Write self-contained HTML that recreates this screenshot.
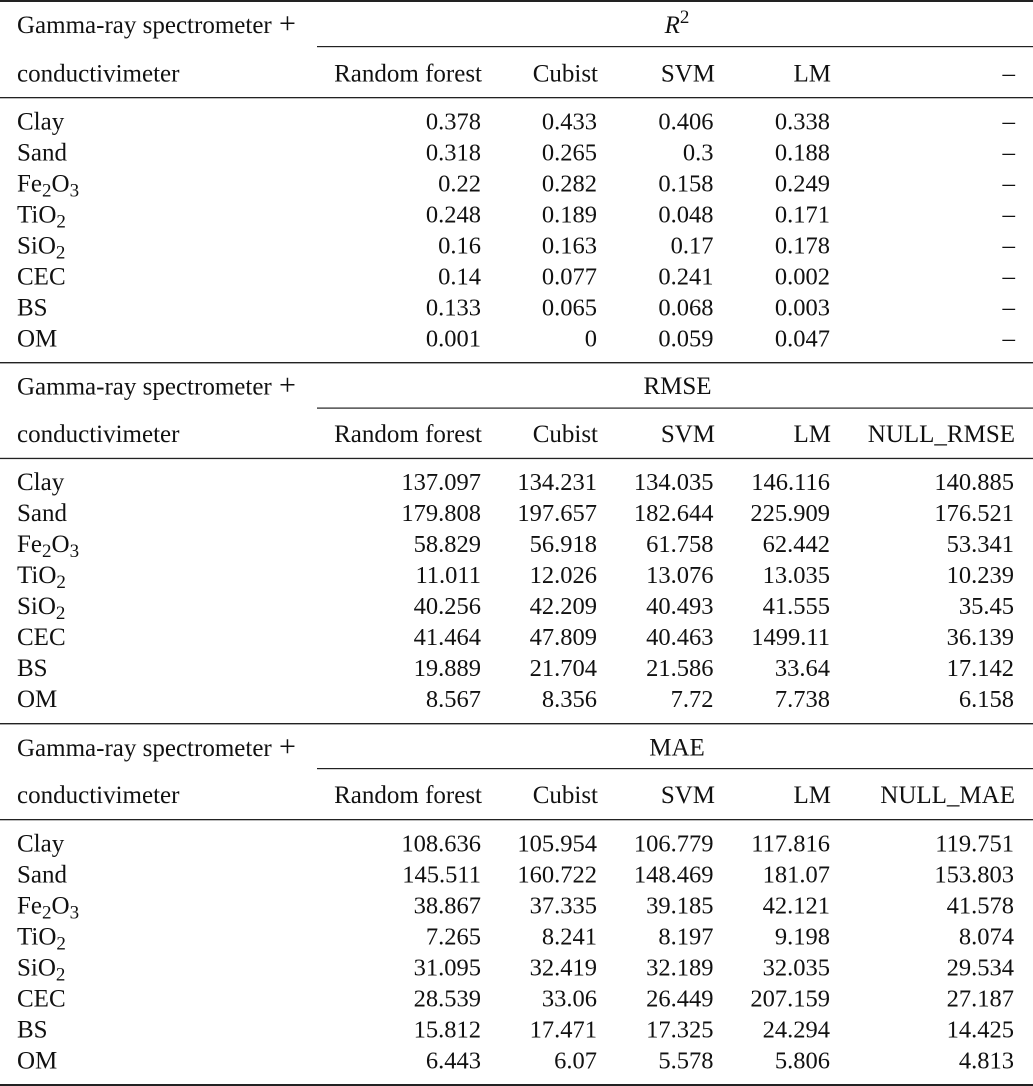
<!DOCTYPE html>
<html>
<head>
<meta charset="utf-8">
<style>
html,body{margin:0;padding:0;background:#fff;}
svg{display:block;}
text{font-family:"Liberation Serif","Times New Roman",serif;fill:#111;}
.l{font-size:25px;}
.n{font-size:24.5px;text-anchor:end;}
.h{font-size:25px;text-anchor:end;}
.c{font-size:25px;text-anchor:middle;}
.s{font-size:19px;}
.p{font-size:30px;}
</style>
</head>
<body>
<svg width="1033" height="1086" viewBox="0 0 1033 1086" xmlns="http://www.w3.org/2000/svg">
<!-- lines -->
<rect x="0" y="0" width="1033" height="2" fill="#222"/>
<rect x="317" y="46" width="716" height="1.2" fill="#222"/>
<rect x="0" y="97" width="1033" height="1.3" fill="#222"/>
<rect x="0" y="362" width="1033" height="1.4" fill="#222"/>
<rect x="317" y="407.5" width="716" height="1.2" fill="#222"/>
<rect x="0" y="457.8" width="1033" height="1.3" fill="#222"/>
<rect x="0" y="723" width="1033" height="1.4" fill="#222"/>
<rect x="317" y="768" width="716" height="1.2" fill="#222"/>
<rect x="0" y="819" width="1033" height="1.3" fill="#222"/>
<rect x="0" y="1084" width="1033" height="2" fill="#222"/>

<!-- ===== Table 1: R2 ===== -->
<text class="l" x="17" y="33">Gamma-ray spectrometer<tspan class="p" x="279">+</tspan></text>
<text class="c" x="677" y="33"><tspan font-style="italic">R</tspan><tspan class="s" dy="-10">2</tspan></text>
<text class="l" x="17" y="81.5">conductivimeter</text>
<text class="h" x="482" y="81.5">Random forest</text>
<text class="h" x="598" y="81.5">Cubist</text>
<text class="h" x="715" y="81.5">SVM</text>
<text class="h" x="831" y="81.5">LM</text>
<text class="h" x="1015" y="81.5">–</text>

<g>
<text class="l" x="17" y="129.3">Clay</text>
<text class="n" x="481" y="129.3">0.378</text><text class="n" x="597" y="129.3">0.433</text><text class="n" x="713.5" y="129.3">0.406</text><text class="n" x="830" y="129.3">0.338</text><text class="h" x="1015" y="129.3">–</text>
<text class="l" x="17" y="160.3">Sand</text>
<text class="n" x="481" y="160.3">0.318</text><text class="n" x="597" y="160.3">0.265</text><text class="n" x="713.5" y="160.3">0.3</text><text class="n" x="830" y="160.3">0.188</text><text class="h" x="1015" y="160.3">–</text>
<text class="l" x="17" y="191.3">Fe<tspan class="s" dy="5">2</tspan><tspan dy="-5">O</tspan><tspan class="s" dy="5">3</tspan></text>
<text class="n" x="481" y="191.3">0.22</text><text class="n" x="597" y="191.3">0.282</text><text class="n" x="713.5" y="191.3">0.158</text><text class="n" x="830" y="191.3">0.249</text><text class="h" x="1015" y="191.3">–</text>
<text class="l" x="17" y="222.3">TiO<tspan class="s" dy="5">2</tspan></text>
<text class="n" x="481" y="222.3">0.248</text><text class="n" x="597" y="222.3">0.189</text><text class="n" x="713.5" y="222.3">0.048</text><text class="n" x="830" y="222.3">0.171</text><text class="h" x="1015" y="222.3">–</text>
<text class="l" x="17" y="253.3">SiO<tspan class="s" dy="5">2</tspan></text>
<text class="n" x="481" y="253.3">0.16</text><text class="n" x="597" y="253.3">0.163</text><text class="n" x="713.5" y="253.3">0.17</text><text class="n" x="830" y="253.3">0.178</text><text class="h" x="1015" y="253.3">–</text>
<text class="l" x="17" y="284.3">CEC</text>
<text class="n" x="481" y="284.3">0.14</text><text class="n" x="597" y="284.3">0.077</text><text class="n" x="713.5" y="284.3">0.241</text><text class="n" x="830" y="284.3">0.002</text><text class="h" x="1015" y="284.3">–</text>
<text class="l" x="17" y="315.3">BS</text>
<text class="n" x="481" y="315.3">0.133</text><text class="n" x="597" y="315.3">0.065</text><text class="n" x="713.5" y="315.3">0.068</text><text class="n" x="830" y="315.3">0.003</text><text class="h" x="1015" y="315.3">–</text>
<text class="l" x="17" y="346.3">OM</text>
<text class="n" x="481" y="346.3">0.001</text><text class="n" x="597" y="346.3">0</text><text class="n" x="713.5" y="346.3">0.059</text><text class="n" x="830" y="346.3">0.047</text><text class="h" x="1015" y="346.3">–</text>
</g>

<!-- ===== Table 2: RMSE ===== -->
<text class="l" x="17" y="394.5">Gamma-ray spectrometer<tspan class="p" x="279">+</tspan></text>
<text class="c" x="677.5" y="394">RMSE</text>
<text class="l" x="17" y="442">conductivimeter</text>
<text class="h" x="482" y="442">Random forest</text>
<text class="h" x="598" y="442">Cubist</text>
<text class="h" x="715" y="442">SVM</text>
<text class="h" x="831" y="442">LM</text>
<text class="h" x="1015" y="442">NULL_RMSE</text>

<g>
<text class="l" x="17" y="490">Clay</text>
<text class="n" x="481" y="490">137.097</text><text class="n" x="597" y="490">134.231</text><text class="n" x="713.5" y="490">134.035</text><text class="n" x="830" y="490">146.116</text><text class="n" x="1014" y="490">140.885</text>
<text class="l" x="17" y="521">Sand</text>
<text class="n" x="481" y="521">179.808</text><text class="n" x="597" y="521">197.657</text><text class="n" x="713.5" y="521">182.644</text><text class="n" x="830" y="521">225.909</text><text class="n" x="1014" y="521">176.521</text>
<text class="l" x="17" y="552">Fe<tspan class="s" dy="5">2</tspan><tspan dy="-5">O</tspan><tspan class="s" dy="5">3</tspan></text>
<text class="n" x="481" y="552">58.829</text><text class="n" x="597" y="552">56.918</text><text class="n" x="713.5" y="552">61.758</text><text class="n" x="830" y="552">62.442</text><text class="n" x="1014" y="552">53.341</text>
<text class="l" x="17" y="583">TiO<tspan class="s" dy="5">2</tspan></text>
<text class="n" x="481" y="583">11.011</text><text class="n" x="597" y="583">12.026</text><text class="n" x="713.5" y="583">13.076</text><text class="n" x="830" y="583">13.035</text><text class="n" x="1014" y="583">10.239</text>
<text class="l" x="17" y="614">SiO<tspan class="s" dy="5">2</tspan></text>
<text class="n" x="481" y="614">40.256</text><text class="n" x="597" y="614">42.209</text><text class="n" x="713.5" y="614">40.493</text><text class="n" x="830" y="614">41.555</text><text class="n" x="1014" y="614">35.45</text>
<text class="l" x="17" y="645">CEC</text>
<text class="n" x="481" y="645">41.464</text><text class="n" x="597" y="645">47.809</text><text class="n" x="713.5" y="645">40.463</text><text class="n" x="830" y="645">1499.11</text><text class="n" x="1014" y="645">36.139</text>
<text class="l" x="17" y="676">BS</text>
<text class="n" x="481" y="676">19.889</text><text class="n" x="597" y="676">21.704</text><text class="n" x="713.5" y="676">21.586</text><text class="n" x="830" y="676">33.64</text><text class="n" x="1014" y="676">17.142</text>
<text class="l" x="17" y="707">OM</text>
<text class="n" x="481" y="707">8.567</text><text class="n" x="597" y="707">8.356</text><text class="n" x="713.5" y="707">7.72</text><text class="n" x="830" y="707">7.738</text><text class="n" x="1014" y="707">6.158</text>
</g>

<!-- ===== Table 3: MAE ===== -->
<text class="l" x="17" y="756">Gamma-ray spectrometer<tspan class="p" x="279">+</tspan></text>
<text class="c" x="677" y="755.5">MAE</text>
<text class="l" x="17" y="803">conductivimeter</text>
<text class="h" x="482" y="803">Random forest</text>
<text class="h" x="598" y="803">Cubist</text>
<text class="h" x="715" y="803">SVM</text>
<text class="h" x="831" y="803">LM</text>
<text class="h" x="1015" y="803">NULL_MAE</text>

<g>
<text class="l" x="17" y="851.3">Clay</text>
<text class="n" x="481" y="851.3">108.636</text><text class="n" x="597" y="851.3">105.954</text><text class="n" x="713.5" y="851.3">106.779</text><text class="n" x="830" y="851.3">117.816</text><text class="n" x="1014" y="851.3">119.751</text>
<text class="l" x="17" y="882.3">Sand</text>
<text class="n" x="481" y="882.3">145.511</text><text class="n" x="597" y="882.3">160.722</text><text class="n" x="713.5" y="882.3">148.469</text><text class="n" x="830" y="882.3">181.07</text><text class="n" x="1014" y="882.3">153.803</text>
<text class="l" x="17" y="913.3">Fe<tspan class="s" dy="5">2</tspan><tspan dy="-5">O</tspan><tspan class="s" dy="5">3</tspan></text>
<text class="n" x="481" y="913.3">38.867</text><text class="n" x="597" y="913.3">37.335</text><text class="n" x="713.5" y="913.3">39.185</text><text class="n" x="830" y="913.3">42.121</text><text class="n" x="1014" y="913.3">41.578</text>
<text class="l" x="17" y="944.3">TiO<tspan class="s" dy="5">2</tspan></text>
<text class="n" x="481" y="944.3">7.265</text><text class="n" x="597" y="944.3">8.241</text><text class="n" x="713.5" y="944.3">8.197</text><text class="n" x="830" y="944.3">9.198</text><text class="n" x="1014" y="944.3">8.074</text>
<text class="l" x="17" y="975.3">SiO<tspan class="s" dy="5">2</tspan></text>
<text class="n" x="481" y="975.3">31.095</text><text class="n" x="597" y="975.3">32.419</text><text class="n" x="713.5" y="975.3">32.189</text><text class="n" x="830" y="975.3">32.035</text><text class="n" x="1014" y="975.3">29.534</text>
<text class="l" x="17" y="1006.3">CEC</text>
<text class="n" x="481" y="1006.3">28.539</text><text class="n" x="597" y="1006.3">33.06</text><text class="n" x="713.5" y="1006.3">26.449</text><text class="n" x="830" y="1006.3">207.159</text><text class="n" x="1014" y="1006.3">27.187</text>
<text class="l" x="17" y="1037.3">BS</text>
<text class="n" x="481" y="1037.3">15.812</text><text class="n" x="597" y="1037.3">17.471</text><text class="n" x="713.5" y="1037.3">17.325</text><text class="n" x="830" y="1037.3">24.294</text><text class="n" x="1014" y="1037.3">14.425</text>
<text class="l" x="17" y="1068.3">OM</text>
<text class="n" x="481" y="1068.3">6.443</text><text class="n" x="597" y="1068.3">6.07</text><text class="n" x="713.5" y="1068.3">5.578</text><text class="n" x="830" y="1068.3">5.806</text><text class="n" x="1014" y="1068.3">4.813</text>
</g>
</svg>
</body>
</html>
